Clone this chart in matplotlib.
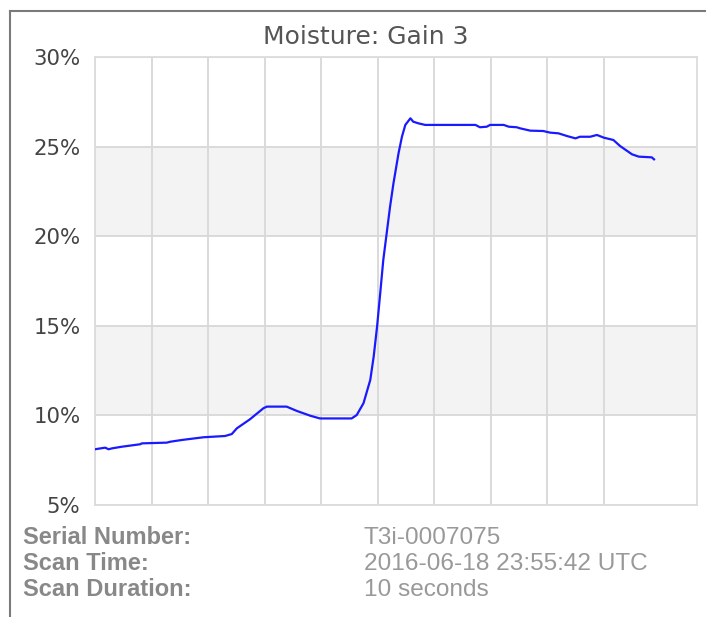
import numpy as np
import matplotlib
matplotlib.use('Agg')
import matplotlib.pyplot as plt
from matplotlib.lines import Line2D

# time (s) and moisture (%)
time_s = [0.0, 0.18, 0.24, 0.30, 0.47, 0.80, 0.83, 1.27, 1.33, 1.54, 1.92, 2.30,
          2.42, 2.51, 2.74, 2.98, 3.04, 3.39, 3.57, 3.81, 3.98, 4.54, 4.63, 4.75,
          4.87, 4.93, 4.99, 5.04, 5.10, 5.16, 5.22, 5.28, 5.37, 5.43, 5.49, 5.58,
          5.63, 5.72, 5.84, 6.73, 6.81, 6.93, 6.99, 7.23, 7.32, 7.46, 7.52, 7.70,
          7.93, 8.05, 8.20, 8.35, 8.50, 8.58, 8.76, 8.88, 9.00, 9.17, 9.29, 9.50,
          9.62, 9.85, 9.89]
moisture = [8.11, 8.20, 8.11, 8.16, 8.25, 8.39, 8.44, 8.48, 8.53, 8.63, 8.78, 8.85,
            8.96, 9.28, 9.78, 10.40, 10.49, 10.49, 10.25, 9.98, 9.83, 9.83, 10.02, 10.68,
            11.98, 13.28, 14.95, 16.62, 18.67, 20.16, 21.65, 22.95, 24.63, 25.55, 26.21, 26.58,
            26.39, 26.30, 26.21, 26.21, 26.08, 26.11, 26.21, 26.21, 26.11, 26.08, 26.02, 25.89,
            25.87, 25.78, 25.74, 25.59, 25.46, 25.55, 25.55, 25.65, 25.50, 25.37, 25.03, 24.57,
            24.44, 24.40, 24.29]

yticks = [5, 10, 15, 20, 25, 30]
info_labels = ["Serial Number:", "Scan Time:", "Scan Duration:"]
info_values = ["T3i-0007075", "2016-06-18 23:55:42 UTC", "10 seconds"]

W, H = 706, 617
fig = plt.figure(figsize=(W / 100, H / 100), dpi=100)
ax = fig.add_axes([95 / W, (H - 505) / H, 602 / W, 448 / H])

# alternating bands
for lo in (10, 20):
    ax.axhspan(lo, lo + 5, color='#f3f3f3', zorder=0, lw=0)

ax.set_xlim(0, 10.65)
ax.set_ylim(5, 30)
ax.set_xticks(np.arange(0, 10, 1))
ax.set_yticks(yticks)
ax.set_yticklabels([f"{v}%" for v in yticks], family='DejaVu Sans')
ax.grid(True, color='#d8d8d8', lw=1.3, zorder=1)
ax.tick_params(length=0, pad=10.5, labelsize=15.3, labelcolor='#444444', labelbottom=False)
for s in ax.spines.values():
    s.set_color('#dcdcdc')
    s.set_linewidth(1.3)

ax.plot(time_s, moisture, color='#1a1aff', lw=1.6, zorder=3)

fig.text(365.5 / W, 1 - 37 / H, "Moisture: Gain 3", ha='center', va='center',
         fontsize=18, family='DejaVu Sans', color='#555555')

# outer frame (left and top only visible)
fig.add_artist(Line2D([9.5 / W, 9.5 / W], [0, 1 - 11 / H], color='#7a7a7a', lw=1.5))
fig.add_artist(Line2D([9.5 / W, 1], [1 - 11 / H, 1 - 11 / H], color='#7a7a7a', lw=1.5))

rows_y = [538, 564, 590]
for lab, val, y in zip(info_labels, info_values, rows_y):
    fig.text(23 / W, 1 - y / H, lab, ha='left', va='center', fontsize=17,
             family='Liberation Sans', weight='bold', color='#888888')
    fig.text(364 / W, 1 - y / H, val, ha='left', va='center', fontsize=17.6,
             family='Liberation Sans', color='#999999')

fig.savefig('out.png', dpi=100)
